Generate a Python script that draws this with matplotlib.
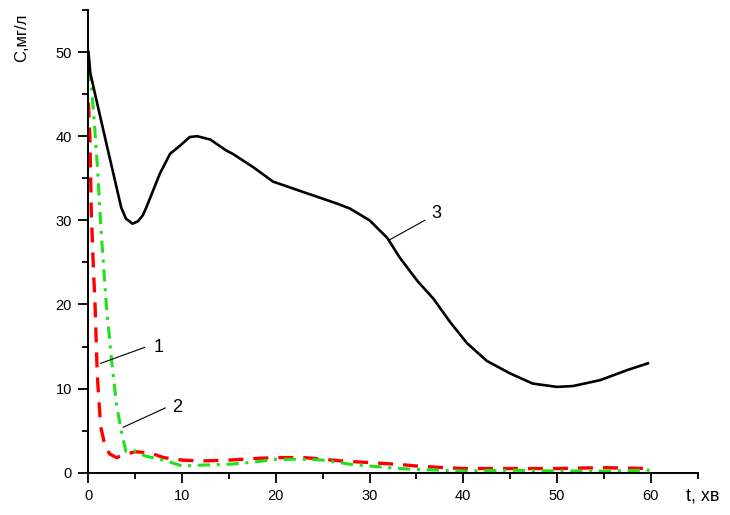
"""Concentration decay curves C(t) for three runs."""

import matplotlib

matplotlib.use("Agg")
import matplotlib.pyplot as plt
from matplotlib.ticker import MultipleLocator

# curve 1 (red, dashed)
t1 = [0.0, 0.15, 0.3, 0.5, 0.7, 0.9, 1.0, 1.3, 1.8, 2.3, 3.0, 4.0, 5.0, 6.0, 7.0, 8.0, 10.0,
      12.0, 15.0, 18.0, 20.0, 23.0, 25.0, 27.0, 30.0, 33.0, 35.0, 38.0, 40.0, 45.0, 50.0,
      55.0, 60.0]
c1 = [44.0, 40.0, 31.0, 25.0, 20.0, 13.0, 10.5, 5.5, 3.0, 2.2, 1.8, 2.2, 2.5, 2.4, 2.2, 1.8,
      1.5, 1.4, 1.5, 1.7, 1.8, 1.8, 1.6, 1.4, 1.2, 1.0, 0.8, 0.6, 0.5, 0.5, 0.5, 0.6, 0.5]

# curve 2 (green, dash-dot)
t2 = [0.0, 0.34, 0.7, 1.0, 1.2, 1.4, 1.9, 2.5, 3.0, 3.5, 4.0, 5.0, 6.0, 8.0, 10.0, 12.0,
      15.0, 18.0, 20.0, 23.0, 25.0, 28.0, 30.0, 33.0, 35.0, 40.0, 45.0, 50.0, 55.0, 60.0]
c2 = [48.0, 45.6, 40.4, 35.6, 31.4, 27.9, 20.0, 13.0, 8.0, 5.0, 2.5, 2.6, 2.0, 1.5, 0.8, 0.9,
      1.0, 1.3, 1.6, 1.6, 1.5, 1.0, 0.8, 0.5, 0.4, 0.2, 0.3, 0.2, 0.2, 0.3]

# curve 3 (black, solid)
t3 = [0.0, 0.2, 0.6, 2.0, 3.5, 4.0, 4.7, 5.3, 5.8, 6.2, 7.6, 8.7, 9.8, 10.8, 11.6, 13.0,
      14.7, 15.4, 17.6, 19.7, 22.3, 24.4, 26.5, 27.9, 30.0, 31.9, 33.2, 35.1, 36.8, 38.6,
      40.4, 42.5, 45.0, 47.4, 50.0, 51.7, 54.6, 57.5, 59.7]
c3 = [50.0, 47.5, 45.5, 38.7, 31.5, 30.2, 29.6, 29.9, 30.6, 31.6, 35.5, 37.9, 38.9, 39.9,
      40.0, 39.6, 38.3, 37.9, 36.3, 34.6, 33.6, 32.8, 32.0, 31.4, 30.0, 27.9, 25.6, 22.8,
      20.7, 17.9, 15.4, 13.3, 11.8, 10.6, 10.2, 10.3, 11.0, 12.2, 13.0]

# callouts: label, point on curve, line end, text position
callouts = [
    ("1", (1.3, 13.0), (6.0, 14.9), (7.0, 14.9)),
    ("2", (3.7, 5.4), (8.2, 7.7), (8.9, 7.7)),
    ("3", (32.0, 27.6), (35.9, 30.0), (36.6, 30.8)),
]

x_ticks = [0, 10, 20, 30, 40, 50, 60]
y_ticks = [0, 10, 20, 30, 40, 50]

plt.rcParams["font.family"] = ["Liberation Sans", "DejaVu Sans"]

fig = plt.figure(figsize=(7.3, 5.15), dpi=100)
ax = fig.add_axes([0.1212, 0.0821, 0.8343, 0.8985])

ax.plot(t3, c3, color="black", linewidth=1.9, zorder=3)
ax.plot(t1, c1, color="#ff0000", linewidth=2.4, dashes=(4.5, 3.0), zorder=2)
ax.plot(t2, c2, color="#22e01a", linewidth=2.2, dashes=(4.0, 2.2, 1.0, 2.2), zorder=2)

for label, tip, end, text_pos in callouts:
    ax.plot([tip[0], end[0]], [tip[1], end[1]], color="black", linewidth=0.8, zorder=4)
    ax.text(text_pos[0], text_pos[1], label, fontsize=13, ha="left", va="center")

ax.set_xlim(0, 65)
ax.set_ylim(0, 55)
ax.set_xticks(x_ticks)
ax.set_yticks(y_ticks)
ax.xaxis.set_minor_locator(MultipleLocator(5))
ax.yaxis.set_minor_locator(MultipleLocator(5))
ax.tick_params(which="major", direction="out", length=7, width=1.3, labelsize=10.5, pad=5)
ax.tick_params(which="minor", direction="out", length=4, width=1.3)

for side in ("top", "right"):
    ax.spines[side].set_visible(False)
for side in ("left", "bottom"):
    ax.spines[side].set_linewidth(1.4)

fig.text(0.03, 0.926, "C,мг/л", rotation=90, fontsize=12, ha="center", va="center")
fig.text(0.94, 0.02, "t, хв", fontsize=13, ha="left", va="bottom")

fig.savefig("out.png", dpi=100)
